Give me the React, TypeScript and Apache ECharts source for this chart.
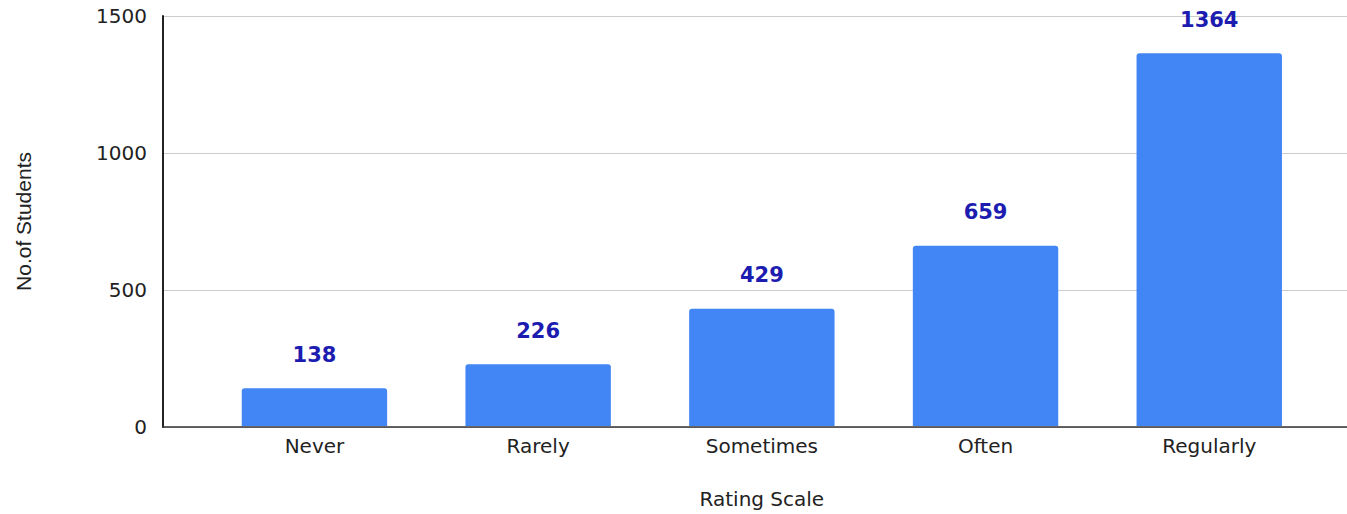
import React, { useEffect, useRef } from "react";
import * as echarts from "echarts";

const categories = ["Never", "Rarely", "Sometimes", "Often", "Regularly"];
const students = [138, 226, 429, 659, 1364];
const yTicks = { min: 0, max: 1500, interval: 500 };

export default function App() {
  const ref = useRef<HTMLDivElement>(null);
  useEffect(() => {
    document.body.style.margin = "0";
    const chart = echarts.init(ref.current!, null, { renderer: "svg" });
    const wide = "'DejaVu Sans', Verdana, sans-serif";
    const arial = "'Liberation Sans', Arial, sans-serif";
    chart.setOption({
      animation: false,
      backgroundColor: "#ffffff",
      textStyle: { fontFamily: wide },
      grid: [
        { left: 163, right: 0, top: 16, bottom: 87 },
        { left: 202.6, right: 25.9, top: 16, bottom: 87 },
      ],
      xAxis: [
        {
          gridIndex: 0,
          type: "value",
          min: 0,
          max: 1,
          axisLine: { show: true, onZero: false, lineStyle: { color: "#333333", width: 1.5 } },
          axisTick: { show: false },
          axisLabel: { show: false },
          splitLine: { show: false },
        },
        {
          gridIndex: 1,
          type: "category",
          data: categories,
          axisLine: { show: false },
          axisTick: { show: false },
          axisLabel: { color: "#222222", fontSize: 20, margin: 10, fontFamily: wide },
          name: "Rating Scale",
          nameLocation: "middle",
          nameGap: 63,
          nameTextStyle: { color: "#222222", fontSize: 20, fontFamily: wide },
        },
      ],
      yAxis: [
        {
          gridIndex: 0,
          type: "value",
          min: yTicks.min,
          max: yTicks.max,
          interval: yTicks.interval,
          axisLine: { show: true, lineStyle: { color: "#222222", width: 2 } },
          axisTick: { show: false },
          axisLabel: {
            color: "#222222",
            fontSize: 20,
            margin: 16,
            fontFamily: wide,
            formatter: (v: number) => String(v),
          },
          splitLine: { show: true, lineStyle: { color: "#cccccc", width: 1.2 } },
          name: "No.of Students",
          nameLocation: "middle",
          nameGap: 129,
          nameTextStyle: { color: "#222222", fontSize: 21, fontFamily: arial },
        },
        {
          gridIndex: 1,
          type: "value",
          min: yTicks.min,
          max: yTicks.max,
          interval: yTicks.interval,
          show: false,
          splitLine: { show: false },
        },
      ],
      series: [
        {
          type: "bar",
          xAxisIndex: 1,
          yAxisIndex: 1,
          data: students,
          barWidth: "65%",
          itemStyle: { color: "#4285F4", borderRadius: [3, 3, 0, 0] },
          label: {
            show: true,
            position: "top",
            distance: 23,
            color: "#1c1cb0",
            fontSize: 21,
            fontWeight: "bold",
            fontFamily: wide,
          },
        },
      ],
    });
    return () => chart.dispose();
  }, []);
  return <div ref={ref} style={{ width: 1347, height: 514, position: "absolute", left: 0, top: 0 }} />;
}
